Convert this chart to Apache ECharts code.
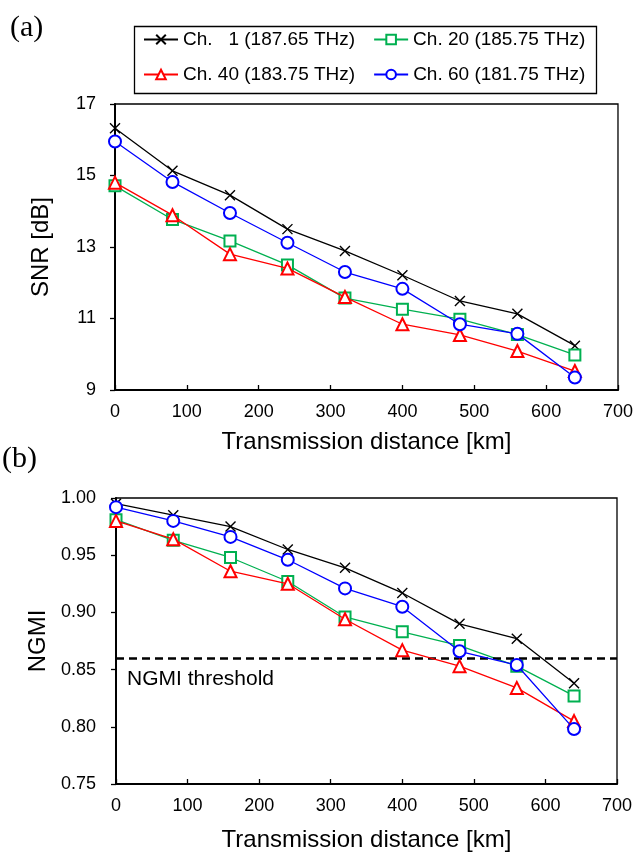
<!DOCTYPE html>
<html>
<head>
  <meta charset="utf-8">
</head>
<body style="margin: 0; background: #fff">
  <div id="container" style="width: 636px; height: 855px"></div>
  <script type="text/javascript" src="https://cdn.jsdelivr.net/npm/echarts@6/dist/echarts.min.js"></script>
  <script type="text/javascript">
    // transmission distance (km)
    var distance = [0, 80, 160, 240, 320, 400, 480, 560, 640];
    var channels = ['Ch.   1 (187.65 THz)', 'Ch. 20 (185.75 THz)', 'Ch. 40 (183.75 THz)', 'Ch. 60 (181.75 THz)'];
    var colors = ['#000000', '#00b050', '#ff0000', '#0000ff'];

    // (a) SNR [dB]
    var snrCh1 = [16.32, 15.13, 14.45, 13.50, 12.89, 12.21, 11.49, 11.13, 10.24];
    var snrCh20 = [14.71, 13.77, 13.17, 12.50, 11.57, 11.26, 10.98, 10.55, 9.98];
    var snrCh40 = [14.80, 13.89, 12.80, 12.40, 11.60, 10.84, 10.54, 10.09, 9.53];
    var snrCh60 = [15.95, 14.82, 13.95, 13.12, 12.30, 11.83, 10.84, 10.57, 9.35];

    // (b) NGMI
    var ngmiCh1 = [0.995, 0.985, 0.975, 0.955, 0.939, 0.917, 0.890, 0.877, 0.838];
    var ngmiCh20 = [0.981, 0.963, 0.948, 0.927, 0.896, 0.883, 0.871, 0.853, 0.827];
    var ngmiCh40 = [0.980, 0.964, 0.936, 0.925, 0.894, 0.867, 0.853, 0.834, 0.805];
    var ngmiCh60 = [0.992, 0.980, 0.966, 0.946, 0.921, 0.905, 0.866, 0.854, 0.798];
    var ngmiThreshold = 0.8575;

    var snrData = [snrCh1, snrCh20, snrCh40, snrCh60];
    var ngmiData = [ngmiCh1, ngmiCh20, ngmiCh40, ngmiCh60];

    var font = 'Liberation Sans, Arial, sans-serif';
    var symbols = ['path://M0,0L10,10M0,10L10,0', 'emptyRect', 'emptyTriangle', 'emptyCircle'];
    var symbolSizes = [10, 11, 12, 12];

    function pairs(ys) {
      return distance.map(function (d, i) { return [d, ys[i]]; });
    }

    var dom = document.getElementById('container');
    var myChart = echarts.init(dom, null, { renderer: 'canvas' });

    var xAxisBase = {
      type: 'value',
      min: 0,
      max: 700,
      interval: 100,
      name: 'Transmission distance [km]',
      nameLocation: 'middle',
      nameTextStyle: { fontSize: 24, color: '#000', fontFamily: font },
      axisLine: { lineStyle: { color: '#000', width: 2 } },
      axisTick: { inside: true, length: 5, lineStyle: { color: '#000', width: 1.3 } },
      axisLabel: { fontSize: 18, color: '#000', margin: 13, fontFamily: font },
      splitLine: { show: false }
    };

    var series = [];
    [0, 1].forEach(function (g) {
      var src = g === 0 ? snrData : ngmiData;
      src.forEach(function (vals, k) {
        var s = {
          type: 'line',
          name: channels[k],
          xAxisIndex: g,
          yAxisIndex: g,
          data: pairs(vals),
          symbol: symbols[k],
          symbolSize: symbolSizes[k],
          showAllSymbol: true,
          color: colors[k],
          lineStyle: { width: 1.3, color: colors[k] },
          itemStyle: { color: k === 0 ? 'none' : colors[k], borderColor: colors[k], borderWidth: 1.4 },
          emphasis: { disabled: true },
          animation: false,
          z: 3 + k
        };
        if (g === 1 && k === 0) {
          s.markLine = {
            silent: true,
            symbol: 'none',
            label: { show: false },
            lineStyle: { color: '#000', width: 2.5, type: [8, 5] },
            data: [{ yAxis: ngmiThreshold }]
          };
        }
        series.push(s);
      });
    });

    var legendBase = {
      orient: 'horizontal',
      padding: 0,
      itemGap: 18,
      itemWidth: 34,
      itemHeight: 12,
      selectedMode: false,
      textStyle: { fontSize: 19, color: '#000', fontFamily: font }
    };

    var option = {
      backgroundColor: '#fff',
      animation: false,
      textStyle: { fontFamily: font },
      legend: [
        Object.assign({}, legendBase, { left: 143, top: 30, data: [channels[0], channels[1]] }),
        Object.assign({}, legendBase, { left: 143, top: 65, data: [channels[2], channels[3]] })
      ],
      grid: [
        { left: 115, right: 18, top: 104, height: 286, show: true, borderColor: '#000', borderWidth: 1.3 },
        { left: 116, right: 19, top: 498, height: 286, show: true, borderColor: '#000', borderWidth: 1.3 }
      ],
      xAxis: [
        Object.assign({}, xAxisBase, { gridIndex: 0, nameGap: 40 }),
        Object.assign({}, xAxisBase, { gridIndex: 1, nameGap: 44 })
      ],
      yAxis: [
        {
          gridIndex: 0,
          type: 'value',
          min: 9,
          max: 17,
          interval: 2,
          name: 'SNR [dB]',
          nameLocation: 'middle',
          nameGap: 62,
          nameTextStyle: { fontSize: 24, color: '#000', fontFamily: font },
          axisLine: { show: true, lineStyle: { color: '#000', width: 2 } },
          axisTick: { show: true, length: 5, lineStyle: { color: '#000', width: 1.3 } },
          axisLabel: { fontSize: 18, color: '#000', margin: 19, fontFamily: font },
          splitLine: { show: false }
        },
        {
          gridIndex: 1,
          type: 'value',
          min: 0.75,
          max: 1.0,
          interval: 0.05,
          name: 'NGMI',
          nameLocation: 'middle',
          nameGap: 64,
          nameTextStyle: { fontSize: 24, color: '#000', fontFamily: font },
          axisLine: { show: true, lineStyle: { color: '#000', width: 2 } },
          axisTick: { show: true, length: 5, lineStyle: { color: '#000', width: 1.3 } },
          axisLabel: {
            fontSize: 18, color: '#000', margin: 20, fontFamily: font,
            formatter: function (v) { return v.toFixed(2); }
          },
          splitLine: { show: false }
        }
      ],
      graphic: [
        {
          type: 'rect',
          left: 132, top: 24,
          shape: { width: 462, height: 67 },
          style: { fill: 'none', stroke: '#000', lineWidth: 1.3 }
        },
        {
          type: 'text',
          left: 10, top: 13,
          style: { text: '(a)', font: '30px "Liberation Serif", "Times New Roman", serif', fill: '#000' }
        },
        {
          type: 'text',
          left: 2, top: 444,
          style: { text: '(b)', font: '30px "Liberation Serif", "Times New Roman", serif', fill: '#000' }
        },
        {
          type: 'text',
          left: 127, top: 669,
          style: { text: 'NGMI threshold', font: '21px "Liberation Sans", Arial, sans-serif', fill: '#000' }
        }
      ],
      series: series
    };

    myChart.setOption(option);
    window.addEventListener('resize', myChart.resize);
  </script>
</body>
</html>
